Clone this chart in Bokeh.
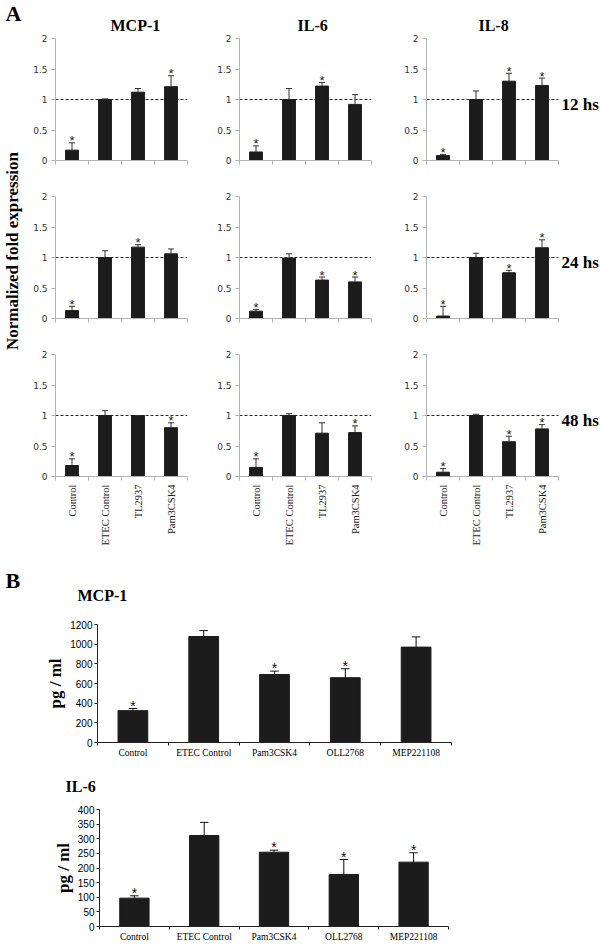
import math
from bokeh.plotting import figure
from bokeh.models import Range1d, FixedTicker, Label, Title, NumeralTickFormatter
from bokeh.layouts import column, row
from bokeh.core.properties import value
from bokeh.embed import file_html
from bokeh.resources import INLINE

# ---------------- Part A data (normalized fold expression) ----------------
cats_a = ["Control", "ETEC Control", "TL2937", "Pam3CSK4"]
genes_a = ["MCP-1", "IL-6", "IL-8"]
hours_a = ["12 hs", "24 hs", "48 hs"]
y_ticks_a = [0, 0.5, 1, 1.5, 2]
ref_level_a = 1

mcp1_12_mean = [0.17, 1.00, 1.12, 1.21]
mcp1_12_err = [0.12, 0.01, 0.06, 0.18]
mcp1_12_sig = [1, 0, 0, 1]
mcp1_24_mean = [0.13, 1.00, 1.17, 1.06]
mcp1_24_err = [0.07, 0.11, 0.04, 0.08]
mcp1_24_sig = [1, 0, 1, 0]
mcp1_48_mean = [0.18, 1.00, 1.00, 0.80]
mcp1_48_err = [0.11, 0.08, 0.00, 0.08]
mcp1_48_sig = [1, 0, 0, 1]

il6_12_mean = [0.14, 1.00, 1.22, 0.92]
il6_12_err = [0.10, 0.18, 0.06, 0.16]
il6_12_sig = [1, 0, 1, 0]
il6_24_mean = [0.12, 0.99, 0.63, 0.60]
il6_24_err = [0.03, 0.07, 0.05, 0.08]
il6_24_sig = [1, 0, 1, 1]
il6_48_mean = [0.15, 1.00, 0.71, 0.72]
il6_48_err = [0.14, 0.03, 0.17, 0.11]
il6_48_sig = [1, 0, 0, 1]

il8_12_mean = [0.08, 1.00, 1.30, 1.23]
il8_12_err = [0.02, 0.14, 0.13, 0.12]
il8_12_sig = [1, 0, 1, 1]
il8_24_mean = [0.04, 1.00, 0.75, 1.16]
il8_24_err = [0.16, 0.07, 0.04, 0.13]
il8_24_sig = [1, 0, 1, 1]
il8_48_mean = [0.07, 1.00, 0.57, 0.78]
il8_48_err = [0.06, 0.02, 0.09, 0.07]
il8_48_sig = [1, 0, 1, 1]

# ---------------- Part B data (pg / ml) ----------------
cats_b = ["Control", "ETEC Control", "Pam3CSK4", "OLL2768", "MEP221108"]
mcp1_b_mean = [324, 1078, 692, 659, 970]
mcp1_b_err = [21, 60, 34, 91, 104]
mcp1_b_sig = [1, 0, 1, 1, 0]
mcp1_b_yticks = [0, 200, 400, 600, 800, 1000, 1200]
il6_b_mean = [97, 311, 254, 178, 220]
il6_b_err = [8, 45, 7, 51, 32]
il6_b_sig = [1, 0, 1, 1, 1]
il6_b_yticks = [0, 50, 100, 150, 200, 250, 300, 350, 400]

data_a = {
    (0, 0): (mcp1_12_mean, mcp1_12_err, mcp1_12_sig),
    (0, 1): (mcp1_24_mean, mcp1_24_err, mcp1_24_sig),
    (0, 2): (mcp1_48_mean, mcp1_48_err, mcp1_48_sig),
    (1, 0): (il6_12_mean, il6_12_err, il6_12_sig),
    (1, 1): (il6_24_mean, il6_24_err, il6_24_sig),
    (1, 2): (il6_48_mean, il6_48_err, il6_48_sig),
    (2, 0): (il8_12_mean, il8_12_err, il8_12_sig),
    (2, 1): (il8_24_mean, il8_24_err, il8_24_sig),
    (2, 2): (il8_48_mean, il8_48_err, il8_48_sig),
}

# ---------------- layout / style constants ----------------
SPACER_W = 25
FRAME_W = 132
COL_BL = [30, 32, 35]
COL_BR = [20, 20, 0]
COL_EXTRA = [0, 0, 174 - FRAME_W]      # room for the "12 hs" labels inside col 3
ROW_H = [178, 158, 220]
ROW_BT = [38, 18, 18]
ROW_BB = [18, 18, 80]
TITLE_OFF = [55, 58, 52]
GREY = "#b4b4b4"
BAR = "#1c1c1c"
SERIF = "Liberation Serif"
STAR_FONT = "Liberation Sans"


def bare_figure(width, height, bt, bb):
    p = figure(width=width, height=height, title_location=None,
               x_range=Range1d(0, 1), y_range=Range1d(0, 1),
               x_axis_location=None, y_axis_location=None,
               output_backend="svg", toolbar_location=None,
               min_border_left=0, min_border_right=0,
               min_border_top=bt, min_border_bottom=bb)
    p.outline_line_color = None
    p.xgrid.visible = False
    p.ygrid.visible = False
    return p


def panel_a(gi, hi):
    mean, err, sig = data_a[(gi, hi)]
    n = len(cats_a)
    xs = list(range(1, n + 1))
    tops = [m + e for m, e in zip(mean, err)]
    ymax = y_ticks_a[-1]
    frame_h = ROW_H[hi] - ROW_BT[hi] - ROW_BB[hi]
    upp = ymax / frame_h
    ppx = FRAME_W / n
    width = COL_BL[gi] + FRAME_W + COL_EXTRA[gi] + COL_BR[gi]
    x_end = n + 0.5 + COL_EXTRA[gi] / ppx
    p = figure(width=width, height=ROW_H[hi], title_location=None,
               x_range=Range1d(0.5, x_end), y_range=Range1d(y_ticks_a[0], ymax),
               output_backend="svg", toolbar_location=None,
               min_border_left=COL_BL[gi], min_border_right=COL_BR[gi],
               min_border_top=ROW_BT[hi], min_border_bottom=ROW_BB[hi])
    p.outline_line_color = None
    p.xgrid.visible = False
    p.ygrid.visible = False

    p.segment(x0=[0.5], y0=[ref_level_a], x1=[n + 0.5], y1=[ref_level_a],
              line_color="#2a2a2a", line_dash="3 2", line_width=1)
    p.vbar(x=xs, top=mean, width=0.39, fill_color=BAR, line_color=BAR)
    p.segment(x0=xs, y0=mean, x1=xs, y1=tops, line_color="#333333", line_width=1)
    p.segment(x0=[x - 0.09 for x in xs], y0=tops, x1=[x + 0.09 for x in xs], y1=tops,
              line_color="#333333", line_width=1)
    sx = [x for x, s in zip(xs, sig) if s]
    sy = [t for t, s in zip(tops, sig) if s]
    p.text(x=sx, y=sy, text=["*"] * len(sx), text_align="center",
           text_baseline="alphabetic", y_offset=-2,
           text_font=value(STAR_FONT), text_font_size="13px", text_color="#222222")

    xa = p.xaxis[0]
    xa.bounds = (0.5, n + 0.5)
    boundaries = [x - 0.5 for x in xs] + [xs[-1] + 0.5]
    xa.major_tick_out = 0
    xa.major_tick_in = 0
    xa.minor_tick_out = 4
    xa.minor_tick_in = 0
    xa.axis_line_color = GREY
    xa.minor_tick_line_color = GREY
    if hi == len(hours_a) - 1:
        xa.ticker = FixedTicker(ticks=xs, minor_ticks=boundaries)
        xa.major_label_overrides = {x: c for x, c in zip(xs, cats_a)}
        xa.major_label_orientation = math.pi / 2
        xa.major_label_text_font = SERIF
        xa.major_label_text_font_size = "10.5px"
        xa.major_label_text_color = "#222222"
        xa.major_label_standoff = 4
    else:
        xa.ticker = FixedTicker(ticks=[], minor_ticks=boundaries)
        xa.major_label_standoff = 0

    ya = p.yaxis[0]
    ya.ticker = FixedTicker(ticks=y_ticks_a, minor_ticks=[])
    ya.formatter = NumeralTickFormatter(format="0.[0]")
    ya.major_tick_out = 4
    ya.major_tick_in = 0
    ya.axis_line_color = GREY
    ya.major_tick_line_color = GREY
    ya.major_label_text_font = "DejaVu Sans"
    ya.major_label_text_font_size = "9px"
    ya.major_label_text_color = "#333333"
    ya.major_label_standoff = 4

    if hi == 0:
        p.add_layout(Title(text=genes_a[gi], align="left", offset=TITLE_OFF[gi],
                           standoff=9, text_font=SERIF, text_font_style="bold",
                           text_font_size="16px", text_color="#000000"), "above")
    if gi == len(genes_a) - 1:
        p.add_layout(Label(x=n + 0.5, y=ref_level_a - 5 * upp, x_offset=3,
                           text=hours_a[hi], text_align="left", text_baseline="middle",
                           text_font=SERIF, text_font_style="bold",
                           text_font_size="17px", text_color="#000000"))
    return p


def spacer_a():
    total_h = sum(ROW_H)
    bt = 26
    bb = bt + total_h - 2 * 250
    p = bare_figure(SPACER_W, total_h, bt, bb)
    p.add_layout(Title(text="Normalized fold expression", align="center", standoff=0,
                       text_font=SERIF, text_font_style="bold",
                       text_font_size="17px", text_color="#000000"), "left")
    p.add_layout(Title(text="A", align="left", vertical_align="top", offset=-16, standoff=0,
                       text_font=SERIF, text_font_style="bold",
                       text_font_size="22px", text_color="#000000"), "above")
    return p


def spacer_b(width, height):
    p = bare_figure(width, height, 40, 10)
    p.add_layout(Title(text="B", align="left", vertical_align="top", offset=5, standoff=22,
                       text_font=SERIF, text_font_style="bold",
                       text_font_size="22px", text_color="#000000"), "above")
    return p


def panel_b(mean, err, sig, yticks, title, width, height, bl, br, bt, bb,
            title_off, title_standoff, title_valign):
    n = len(cats_b)
    xs = list(range(1, n + 1))
    tops = [m + e for m, e in zip(mean, err)]
    ymax = yticks[-1]
    p = figure(width=width, height=height, title_location=None,
               x_range=Range1d(0.5, n + 0.5), y_range=Range1d(yticks[0], ymax),
               output_backend="svg", toolbar_location=None,
               min_border_left=bl, min_border_right=br,
               min_border_top=bt, min_border_bottom=bb)
    p.outline_line_color = None
    p.xgrid.visible = False
    p.ygrid.visible = False

    p.vbar(x=xs, top=mean, width=0.42, fill_color=BAR, line_color=BAR)
    p.segment(x0=xs, y0=mean, x1=xs, y1=tops, line_color="#111111", line_width=1)
    p.segment(x0=[x - 0.06 for x in xs], y0=tops, x1=[x + 0.06 for x in xs], y1=tops,
              line_color="#111111", line_width=1)
    sx = [x for x, s in zip(xs, sig) if s]
    sy = [t for t, s in zip(tops, sig) if s]
    p.text(x=sx, y=sy, text=["*"] * len(sx), text_align="center",
           text_baseline="alphabetic", y_offset=-3,
           text_font=value(STAR_FONT), text_font_size="14px", text_color="#111111")

    xa = p.xaxis[0]
    xa.ticker = FixedTicker(ticks=xs, minor_ticks=[x - 0.5 for x in xs] + [xs[-1] + 0.5])
    xa.major_label_overrides = {x: c for x, c in zip(xs, cats_b)}
    xa.major_tick_out = 0
    xa.major_tick_in = 0
    xa.minor_tick_out = 3
    xa.minor_tick_in = 0
    xa.axis_line_color = "#222222"
    xa.minor_tick_line_color = "#222222"
    xa.major_label_text_font = SERIF
    xa.major_label_text_font_size = "9.5px"
    xa.major_label_text_color = "#000000"
    xa.major_label_standoff = 2

    ya = p.yaxis[0]
    ya.ticker = FixedTicker(ticks=yticks, minor_ticks=[])
    ya.major_tick_out = 3
    ya.major_tick_in = 0
    ya.axis_line_color = "#222222"
    ya.major_tick_line_color = "#222222"
    ya.major_label_text_font = "Liberation Sans"
    ya.major_label_text_font_size = "10px"
    ya.major_label_text_color = "#000000"
    ya.major_label_standoff = 2
    ya.axis_label = "pg / ml"
    ya.axis_label_text_font = SERIF
    ya.axis_label_text_font_style = "bold"
    ya.axis_label_text_font_size = "17px"
    ya.axis_label_text_color = "#000000"
    ya.axis_label_standoff = 2

    p.add_layout(Title(text=title, align="left", vertical_align=title_valign,
                       offset=title_off, standoff=title_standoff,
                       text_font=SERIF, text_font_style="bold",
                       text_font_size="16px", text_color="#000000"), "above")
    return p


grid_a = column(*[row(*[panel_a(gi, hi) for gi in range(len(genes_a))])
                  for hi in range(len(hours_a))])
part_a = row(spacer_a(), grid_a)

SPB_W = 30
pb1 = panel_b(mcp1_b_mean, mcp1_b_err, mcp1_b_sig, mcp1_b_yticks, "MCP-1",
              600 - SPB_W, 208, 97 - SPB_W, 600 - 97 - 354, 68, 22, -20, 41, "bottom")
part_b1 = row(column(spacer_b(SPB_W, 208)), pb1)
pb2 = panel_b(il6_b_mean, il6_b_err, il6_b_sig, il6_b_yticks, "IL-6",
              600, 180, 99, 152, 45, 16, -34, 25, "top")

layout = column(part_a, part_b1, pb2)
open("out.html", "w").write(file_html(layout, INLINE))
